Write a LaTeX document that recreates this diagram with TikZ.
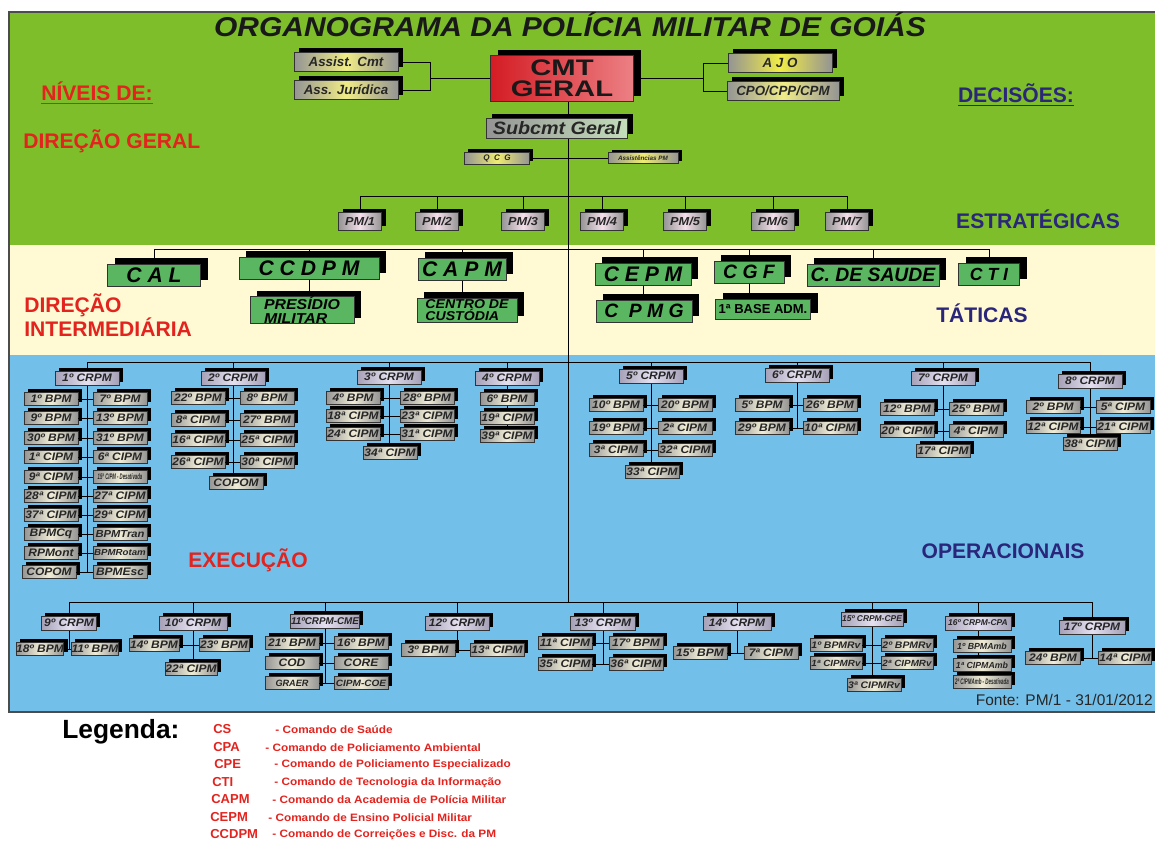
\documentclass[tikz,border=0pt]{standalone}
\usepackage{fontspec}
\setmainfont{Liberation Sans}
\newfontfamily\largo[FakeStretch=1.1]{Liberation Sans}
\newfontfamily\espacado[FakeStretch=1.3]{Liberation Sans}
\usepackage{graphicx}
\usepackage{tikz}
\usetikzlibrary{shadows}

\definecolor{verde}{RGB}{125,190,42}
\definecolor{creme}{RGB}{255,249,212}
\definecolor{azul}{RGB}{114,191,234}
\definecolor{vermelho}{RGB}{226,35,30}
\definecolor{anil}{RGB}{42,38,122}
\definecolor{caixa}{RGB}{90,182,96}
\definecolor{cinza}{RGB}{148,148,148}
\definecolor{palha}{RGB}{240,236,214}
\definecolor{cinzalilas}{RGB}{165,160,182}
\definecolor{lilas}{RGB}{228,224,240}
\definecolor{rosa}{RGB}{244,222,234}
\definecolor{amarelo}{RGB}{240,236,70}
\definecolor{tijolo}{RGB}{212,28,36}
\definecolor{salmao}{RGB}{236,128,132}
\definecolor{musgo}{RGB}{196,222,186}

\pgfdeclarelayer{fundo}
\pgfdeclarelayer{linhas}
\pgfsetlayers{fundo,linhas,main}

\begin{document}
\begin{tikzpicture}
		[x=0.02cm, y=-0.02cm, line width=0.65pt,
		 cx/.style={draw=black!80, line width=0.5pt, inner sep=0pt, align=center, text=black!85},
		 sombra/.style 2 args={general shadow={fill=black, shadow xshift=#1, shadow yshift=#2}},
		 sub/.style={cx, sombra={2.2pt}{2pt}, minimum width=1.08cm, minimum height=0.26cm,
			left color=cinza, right color=cinza, middle color=palha,
			font=\largo\bfseries\itshape\fontsize{6.2}{6.2}\selectfont},
		 crpm/.style={sub, minimum width=1.28cm, minimum height=0.28cm,
			left color=cinzalilas, right color=cinzalilas, middle color=lilas},
		 pm/.style={cx, sombra={2.4pt}{2pt}, minimum width=0.86cm, minimum height=0.36cm,
			left color=cinza, right color=cinza, middle color=rosa,
			font=\largo\bfseries\itshape\fontsize{6.6}{6.6}\selectfont},
		 ass/.style={cx, sombra={2.8pt}{2.3pt}, minimum width=2.08cm, minimum height=0.38cm,
			left color=cinza, right color=cinza, middle color=amarelo!55!palha,
			font=\bfseries\itshape\fontsize{7.6}{7.6}\selectfont},
		 tat/.style={cx, sombra={4.2pt}{3.2pt}, fill=caixa, minimum height=0.44cm, text=black,
			font=\bfseries\itshape\fontsize{12}{12}\selectfont},
		 nivel/.style={anchor=west, inner sep=0pt, align=left, text=vermelho,
			font=\bfseries\fontsize{12}{13.6}\selectfont},
		 decisao/.style={nivel, anchor=center, text=anil},
		 sigla/.style={anchor=west, inner sep=0pt, text=vermelho, font=\bfseries\fontsize{7.4}{7.4}\selectfont},
		 texto/.style={anchor=west, inner sep=0pt, text=vermelho, font=\largo\bfseries\fontsize{6.1}{6.1}\selectfont}]

	\useasboundingbox (0,0) rectangle (1155,840);

	% faixas dos niveis
	\begin{pgfonlayer}{fundo}
		\fill[verde] (9,12) rectangle (1155,245);
		\fill[creme] (9,245) rectangle (1155,355);
		\fill[azul] (9,355) rectangle (1155,712);
		\draw[black!70, line width=1.2pt] (1156,12) -- (9,12) -- (9,712) -- (1156,712);
	\end{pgfonlayer}

	\coordinate (eixo) at (568,0);
	\coordinate (ramoE) at (430,0);
	\coordinate (ramoD) at (703,0);
	\coordinate (barraPM) at (0,196);
	\coordinate (barraT) at (0,249);
	\coordinate (barraN) at (0,362);
	\coordinate (barraS) at (0,602);

	% direcao geral
	\node[inner sep=0pt, text=black!90, font=\largo\bfseries\itshape\fontsize{15.5}{15.5}\selectfont] (titulo) at (570,25)
		{ORGANOGRAMA DA POLÍCIA MILITAR DE GOIÁS};
	\node[cx, sombra={4pt}{3pt}, minimum width=2.86cm, minimum height=0.92cm, left color=tijolo, right color=salmao,
		text=black!90, font=\espacado\bfseries\fontsize{12.8}{12}\selectfont] (cmt) at (562,78) {CMT\\GERAL};
	\node[ass] (asscmt) at (346,62) {Assist. Cmt};
	\node[ass] (assjur) at (346,90) {Ass. Jurídica};
	\node[ass, middle color=amarelo] (ajo) at (780,63) {A J O};
	\node[ass, minimum width=2.24cm] (cpo) at (783,91) {CPO/CPP/CPM};
	\node[cx, sombra={3pt}{2.5pt}, minimum width=2.82cm, minimum height=0.4cm, left color=cinza, right color=musgo,
		font=\largo\bfseries\itshape\fontsize{10.2}{10.2}\selectfont] (subcmt) at (557,128) {Subcmt Geral};
	\node[cx, sombra={2pt}{1.6pt}, minimum width=1.3cm, minimum height=0.24cm, left color=cinza, right color=cinza,
		middle color=amarelo!70!palha, font=\bfseries\itshape\fontsize{4.6}{4.6}\selectfont] (qcg) at (497,158) {Q\ \ C\ \ G};
	\node[cx, sombra={2pt}{1.6pt}, minimum width=1.4cm, minimum height=0.22cm, left color=cinza, right color=cinza,
		middle color=amarelo!70!palha, font=\bfseries\itshape\fontsize{3.6}{3.6}\selectfont] (apm) at (643,158) {Assistências PM};

	\node[pm] (pm1) at (360,221) {PM/1};
	\node[pm] (pm2) at (437,221) {PM/2};
	\node[pm] (pm3) at (523,221) {PM/3};
	\node[pm] (pm4) at (602,221) {PM/4};
	\node[pm] (pm5) at (685,221) {PM/5};
	\node[pm] (pm6) at (773,221) {PM/6};
	\node[pm] (pm7) at (847,221) {PM/7};

	\node[nivel] (niveis) at (41,93) {\underline{NÍVEIS DE:}};
	\node[nivel] (dgeral) at (23,141) {DIREÇÃO GERAL};
	\node[decisao] (decisoes) at (1016,95) {\underline{DECISÕES:}};
	\node[decisao] (estrat) at (1038,219) {ESTRATÉGICAS};

	% direcao intermediaria
	\node[tat, minimum width=1.86cm] (cal) at (154,275) {C A L};
	\node[tat, minimum width=2.8cm] (ccdpm) at (309,268) {C C D P M};
	\node[tat, minimum width=1.76cm] (capm) at (462,269) {C A P M};
	\node[tat, minimum width=2.08cm, minimum height=0.5cm, align=left,
		font=\largo\bfseries\itshape\fontsize{8.2}{7.8}\selectfont] (presidio) at (302,310) {PRESÍDIO\\MILITAR};
	\node[tat, minimum width=2cm, minimum height=0.48cm, align=left,
		font=\largo\bfseries\itshape\fontsize{7.3}{7.3}\selectfont] (custodia) at (467,310) {CENTRO DE\\CUSTÓDIA};
	\node[tat, minimum width=1.92cm] (cepm) at (643,274) {C E P M};
	\node[tat, minimum width=1.4cm, font=\bfseries\itshape\fontsize{11}{11}\selectfont] (cgf) at (749,272) {C G F};
	\node[tat, minimum width=2.64cm, font=\bfseries\itshape\fontsize{11}{11}\selectfont] (saude) at (873,275) {C. DE SAUDE};
	\node[tat, minimum width=1.22cm, font=\bfseries\itshape\fontsize{10}{10}\selectfont] (cti) at (989,274) {C T I};
	\node[tat, minimum width=1.92cm, font=\bfseries\itshape\fontsize{11}{11}\selectfont] (cpmg) at (644,311) {C\ \ P M G};
	\node[tat, minimum width=1.9cm, minimum height=0.4cm, font=\bfseries\fontsize{7.4}{7.4}\selectfont] (base) at (763,309) {1ª BASE ADM.};

	\node[nivel] (dinter) at (24,315) {DIREÇÃO\\INTERMEDIÁRIA};
	\node[decisao] (taticas) at (982,313) {TÁTICAS};

	% execucao: 1o a 8o CRPM
	\node[crpm] (c1) at (87,378) {1º CRPM};
	\node[sub] (c1e1) at (51,399) {1º BPM} edge [-] (c1e1 -| c1);
	\node[sub] (c1d1) at (120,399) {7º BPM} edge [-] (c1d1 -| c1);
	\node[sub] (c1e2) at (51,418) {9º BPM} edge [-] (c1e2 -| c1);
	\node[sub] (c1d2) at (120,418) {13º BPM} edge [-] (c1d2 -| c1);
	\node[sub] (c1e3) at (51,438) {30º BPM} edge [-] (c1e3 -| c1);
	\node[sub] (c1d3) at (120,438) {31º BPM} edge [-] (c1d3 -| c1);
	\node[sub] (c1e4) at (51,457) {1ª CIPM} edge [-] (c1e4 -| c1);
	\node[sub] (c1d4) at (120,457) {6ª CIPM} edge [-] (c1d4 -| c1);
	\node[sub] (c1e5) at (51,477) {9ª CIPM} edge [-] (c1e5 -| c1);
	\node[sub] (c1d5) at (120,477) {\scalebox{0.48}[1]{\fontsize{4.6}{4.6}\selectfont 15ª CIPM - Desativada}} edge [-] (c1d5 -| c1);
	\node[sub] (c1e6) at (51,496) {28ª CIPM} edge [-] (c1e6 -| c1);
	\node[sub] (c1d6) at (120,496) {27ª CIPM} edge [-] (c1d6 -| c1);
	\node[sub] (c1e7) at (51,515) {37ª CIPM} edge [-] (c1e7 -| c1);
	\node[sub] (c1d7) at (120,515) {29ª CIPM} edge [-] (c1d7 -| c1);
	\node[sub] (c1e8) at (51,534) {BPMCq} edge [-] (c1e8 -| c1);
	\node[sub, font=\largo\bfseries\itshape\fontsize{5.8}{5.8}\selectfont] (c1d8) at (120,534) {BPMTran} edge [-] (c1d8 -| c1);
	\node[sub] (c1e9) at (51,553) {RPMont} edge [-] (c1e9 -| c1);
	\node[sub, font=\largo\bfseries\itshape\fontsize{5}{5}\selectfont] (c1d9) at (120,553) {BPMRotam} edge [-] (c1d9 -| c1);
	\node[sub] (c1e10) at (49,572) {COPOM} edge [-] (c1e10 -| c1);
	\node[sub] (c1d10) at (120,572) {BPMEsc} edge [-] (c1d10 -| c1);

	\node[crpm] (c2) at (233,378) {2º CRPM};
	\node[sub] (c2e1) at (198,398) {22º BPM} edge [-] (c2e1 -| c2);
	\node[sub] (c2d1) at (267,398) {8º BPM} edge [-] (c2d1 -| c2);
	\node[sub] (c2e2) at (198,420) {8ª CIPM} edge [-] (c2e2 -| c2);
	\node[sub] (c2d2) at (267,420) {27º BPM} edge [-] (c2d2 -| c2);
	\node[sub] (c2e3) at (198,440) {16ª CIPM} edge [-] (c2e3 -| c2);
	\node[sub] (c2d3) at (267,440) {25ª CIPM} edge [-] (c2d3 -| c2);
	\node[sub] (c2e4) at (198,462) {26ª CIPM} edge [-] (c2e4 -| c2);
	\node[sub] (c2d4) at (267,462) {30ª CIPM} edge [-] (c2d4 -| c2);
	\node[sub] (c2f) at (236,483) {COPOM};

	\node[crpm] (c3) at (389,377) {3º CRPM};
	\node[sub] (c3e1) at (353,398) {4º BPM} edge [-] (c3e1 -| c3);
	\node[sub] (c3d1) at (427,398) {28º BPM} edge [-] (c3d1 -| c3);
	\node[sub] (c3e2) at (353,416) {18ª CIPM} edge [-] (c3e2 -| c3);
	\node[sub] (c3d2) at (427,416) {23ª CIPM} edge [-] (c3d2 -| c3);
	\node[sub] (c3e3) at (353,434) {24ª CIPM} edge [-] (c3e3 -| c3);
	\node[sub] (c3d3) at (427,434) {31ª CIPM} edge [-] (c3d3 -| c3);
	\node[sub] (c3f) at (390,453) {34ª CIPM};

	\node[crpm] (c4) at (507,378) {4º CRPM};
	\node[sub] (c4a) at (507,399) {6º BPM};
	\node[sub] (c4b) at (507,418) {19ª CIPM};
	\node[sub] (c4c) at (507,436) {39ª CIPM};

	\node[crpm] (c5) at (651,376) {5º CRPM};
	\node[sub] (c5e1) at (616,405) {10º BPM} edge [-] (c5e1 -| c5);
	\node[sub] (c5d1) at (685,405) {20º BPM} edge [-] (c5d1 -| c5);
	\node[sub] (c5e2) at (616,428) {19º BPM} edge [-] (c5e2 -| c5);
	\node[sub] (c5d2) at (685,428) {2ª CIPM} edge [-] (c5d2 -| c5);
	\node[sub] (c5e3) at (616,450) {3ª CIPM} edge [-] (c5e3 -| c5);
	\node[sub] (c5d3) at (685,450) {32ª CIPM} edge [-] (c5d3 -| c5);
	\node[sub] (c5f) at (652,472) {33ª CIPM};

	\node[crpm] (c6) at (797,375) {6º CRPM};
	\node[sub] (c6e1) at (762,405) {5º BPM} edge [-] (c6e1 -| c6);
	\node[sub] (c6d1) at (830,405) {26º BPM} edge [-] (c6d1 -| c6);
	\node[sub] (c6e2) at (762,428) {29º BPM} edge [-] (c6e2 -| c6);
	\node[sub] (c6d2) at (830,428) {10ª CIPM} edge [-] (c6d2 -| c6);

	\node[crpm] (c7) at (943,378) {7º CRPM};
	\node[sub] (c7e1) at (907,409) {12º BPM} edge [-] (c7e1 -| c7);
	\node[sub] (c7d1) at (976,409) {25º BPM} edge [-] (c7d1 -| c7);
	\node[sub] (c7e2) at (907,431) {20ª CIPM} edge [-] (c7e2 -| c7);
	\node[sub] (c7d2) at (976,431) {4ª CIPM} edge [-] (c7d2 -| c7);
	\node[sub] (c7f) at (943,451) {17ª CIPM};

	\node[crpm] (c8) at (1090,381) {8º CRPM};
	\node[sub] (c8e1) at (1053,407) {2º BPM} edge [-] (c8e1 -| c8);
	\node[sub] (c8d1) at (1123,407) {5ª CIPM} edge [-] (c8d1 -| c8);
	\node[sub] (c8e2) at (1053,427) {12ª CIPM} edge [-] (c8e2 -| c8);
	\node[sub] (c8d2) at (1123,427) {21ª CIPM} edge [-] (c8d2 -| c8);
	\node[sub] (c8f) at (1090,444) {38ª CIPM};

	\node[nivel] (execucao) at (188,560) {EXECUÇÃO};
	\node[decisao] (operac) at (1003,551) {OPERACIONAIS};

	% execucao: 9o a 17o CRPM
	\node[crpm, minimum width=1.1cm] (c9) at (69,623) {9º CRPM};
	\node[sub, minimum width=0.88cm] (c9e) at (40,649) {18º BPM} edge [-] (c9e -| c9);
	\node[sub, minimum width=0.88cm] (c9d) at (95,649) {11º BPM} edge [-] (c9d -| c9);

	\node[crpm, minimum width=1.36cm] (c10) at (193,623) {10º CRPM};
	\node[sub, minimum width=1cm] (c10e) at (154,645) {14º BPM} edge [-] (c10e -| c10);
	\node[sub, minimum width=1cm] (c10d) at (224,645) {23º BPM} edge [-] (c10d -| c10);
	\node[sub, minimum width=1.04cm] (c10f) at (191,669) {22ª CIPM};

	\node[crpm, minimum width=1.38cm, font=\bfseries\itshape\fontsize{5.6}{5.6}\selectfont] (c11) at (325,621) {11ºCRPM-CME};
	\node[sub] (c11e1) at (292,643) {21º BPM} edge [-] (c11e1 -| c11);
	\node[sub] (c11d1) at (361,643) {16º BPM} edge [-] (c11d1 -| c11);
	\node[sub] (c11e2) at (292,663) {COD} edge [-] (c11e2 -| c11);
	\node[sub] (c11d2) at (361,663) {CORE} edge [-] (c11d2 -| c11);
	\node[sub, font=\bfseries\itshape\fontsize{5.2}{5.2}\selectfont] (c11e3) at (292,683) {GRAER} edge [-] (c11e3 -| c11);
	\node[sub, font=\largo\bfseries\itshape\fontsize{5.2}{5.2}\selectfont] (c11d3) at (361,683) {CIPM-COE} edge [-] (c11d3 -| c11);

	\node[crpm] (c12) at (457,623) {12º CRPM};
	\node[sub] (c12e) at (428,650) {3º BPM} edge [-] (c12e -| c12);
	\node[sub] (c12d) at (497,650) {13ª CIPM} edge [-] (c12d -| c12);

	\node[crpm, minimum width=1.3cm] (c13) at (603,623) {13º CRPM};
	\node[sub] (c13e1) at (565,643) {11ª CIPM} edge [-] (c13e1 -| c13);
	\node[sub] (c13d1) at (636,643) {17º BPM} edge [-] (c13d1 -| c13);
	\node[sub] (c13e2) at (565,664) {35ª CIPM} edge [-] (c13e2 -| c13);
	\node[sub] (c13d2) at (636,664) {36ª CIPM} edge [-] (c13d2 -| c13);

	\node[crpm, minimum width=1.36cm] (c14) at (737,623) {14º CRPM};
	\node[sub] (c14e) at (700,653) {15º BPM} edge [-] (c14e -| c14);
	\node[sub] (c14d) at (771,653) {7ª CIPM} edge [-] (c14d -| c14);

	\node[crpm, minimum width=1.24cm, font=\bfseries\itshape\fontsize{4.8}{4.8}\selectfont] (c15) at (872,619) {15º CRPM-CPE};
	\node[sub, minimum width=1.04cm, font=\largo\bfseries\itshape\fontsize{5.4}{5.4}\selectfont] (c15e1) at (836,645) {1º BPMRv} edge [-] (c15e1 -| c15);
	\node[sub, minimum width=1.04cm, font=\largo\bfseries\itshape\fontsize{5.4}{5.4}\selectfont] (c15d1) at (907,645) {2º BPMRv} edge [-] (c15d1 -| c15);
	\node[sub, minimum width=1.04cm, font=\largo\bfseries\itshape\fontsize{5.1}{5.1}\selectfont] (c15e2) at (836,663) {1ª CIPMRv} edge [-] (c15e2 -| c15);
	\node[sub, minimum width=1.04cm, font=\largo\bfseries\itshape\fontsize{5.1}{5.1}\selectfont] (c15d2) at (907,663) {2ª CIPMRv} edge [-] (c15d2 -| c15);
	\node[sub, minimum width=1.08cm, font=\largo\bfseries\itshape\fontsize{5.4}{5.4}\selectfont] (c15f) at (874,685) {3ª CIPMRv};

	\node[crpm, minimum width=1.32cm, font=\bfseries\itshape\fontsize{4.8}{4.8}\selectfont] (c16) at (978,623) {16º CRPM-CPA};
	\node[sub, minimum width=1.16cm, font=\bfseries\itshape\fontsize{5}{5}\selectfont] (c16a) at (982,646) {1º BPMAmb};
	\node[sub, minimum width=1.16cm, font=\bfseries\itshape\fontsize{5}{5}\selectfont] (c16b) at (982,665) {1ª CIPMAmb};
	\node[sub, minimum width=1.16cm] (c16c) at (982,682) {\scalebox{0.5}[1]{\fontsize{4.6}{4.6}\selectfont 2ª CIPMAmb - Desativada}};

	\node[crpm, minimum width=1.32cm] (c17) at (1092,627) {17º CRPM};
	\node[sub, minimum width=1.1cm] (c17e) at (1053,658) {24º BPM} edge [-] (c17e -| c17);
	\node[sub, minimum width=1.06cm] (c17d) at (1125,658) {14ª CIPM} edge [-] (c17d -| c17);

	\node[anchor=east, inner sep=0pt, text=black!85, font=\fontsize{8.8}{8.8}\selectfont] (fonte) at (1153,700)
		{Fonte: PM/1 - 31/01/2012};

	% legenda
	\node[anchor=west, inner sep=0pt, font=\bfseries\fontsize{15}{15}\selectfont] (legenda) at (62,732) {Legenda:};
	\node[sigla] (s1) at (213,729) {CS};
	\node[texto] (t1) at (275,730) {- Comando de Saúde};
	\node[sigla] (s2) at (213,747) {CPA};
	\node[texto] (t2) at (265,748) {- Comando de Policiamento Ambiental};
	\node[sigla] (s3) at (214,764) {CPE};
	\node[texto] (t3) at (274,765) {- Comando de Policiamento Especializado};
	\node[sigla] (s4) at (212,782) {CTI};
	\node[texto] (t4) at (274,783) {- Comando de Tecnologia da Informação};
	\node[sigla] (s5) at (211,799) {CAPM};
	\node[texto] (t5) at (272,800) {- Comando da Academia de Polícia Militar};
	\node[sigla] (s6) at (210,817) {CEPM};
	\node[texto] (t6) at (268,818) {- Comando de Ensino Policial Militar};
	\node[sigla] (s7) at (210,834) {CCDPM};
	\node[texto] (t7) at (272,835) {- Comando de Correições e Disc. da PM};

	% ligacoes
	\begin{pgfonlayer}{linhas}
		\draw (asscmt) -| (assjur -| ramoE) -- (assjur);
		\draw (cmt) -- (cmt -| ramoE);
		\draw (ajo) -| (cpo -| ramoD) -- (cpo);
		\draw (cmt) -- (cmt -| ramoD);
		\draw (cmt -| eixo) -- (barraS -| eixo);
		\draw (qcg) -- (apm);
		\draw (pm1) |- (barraPM -| pm7) -- (pm7)
			(pm2) -- (pm2 |- barraPM) (pm3) -- (pm3 |- barraPM) (pm4) -- (pm4 |- barraPM)
			(pm5) -- (pm5 |- barraPM) (pm6) -- (pm6 |- barraPM);
		\draw (cal) |- (barraT -| cti) -- (cti)
			(ccdpm) -- (ccdpm |- barraT) (capm) -- (capm |- barraT) (cepm) -- (cepm |- barraT)
			(cgf) -- (cgf |- barraT) (saude) -- (saude |- barraT);
		\draw (ccdpm) -- (ccdpm |- presidio);
		\draw (capm) -- (capm |- custodia);
		\draw (cepm) -- (cepm |- cpmg);
		\draw (cgf) -- (cgf |- base);
		\draw (c1) |- (barraN -| c8) -- (c8)
			(c2) -- (c2 |- barraN) (c3) -- (c3 |- barraN) (c4) -- (c4 |- barraN)
			(c5) -- (c5 |- barraN) (c6) -- (c6 |- barraN) (c7) -- (c7 |- barraN);
		\draw (c1) -- (c1 |- c1e10);
		\draw (c2) -- (c2 |- c2f);
		\draw (c3) -- (c3 |- c3f);
		\draw (c4) -- (c4 |- c4c);
		\draw (c5) -- (c5 |- c5f);
		\draw (c6) -- (c6 |- c6e2);
		\draw (c7) -- (c7 |- c7f);
		\draw (c8) -- (c8 |- c8f);
		\draw (c9) |- (barraS -| c17) -- (c17)
			(c10) -- (c10 |- barraS) (c11) -- (c11 |- barraS) (c12) -- (c12 |- barraS)
			(c13) -- (c13 |- barraS) (c14) -- (c14 |- barraS) (c15) -- (c15 |- barraS)
			(c16) -- (c16 |- barraS);
		\draw (c9) -- (c9 |- c9e);
		\draw (c10) -- (c10 |- c10f);
		\draw (c11) -- (c11 |- c11e3);
		\draw (c12) -- (c12 |- c12e);
		\draw (c13) -- (c13 |- c13e2);
		\draw (c14) -- (c14 |- c14e);
		\draw (c15) -- (c15 |- c15f);
		\draw (c16) -- (c16 |- c16c);
		\draw (c17) -- (c17 |- c17e);
	\end{pgfonlayer}

\end{tikzpicture}
\end{document}
